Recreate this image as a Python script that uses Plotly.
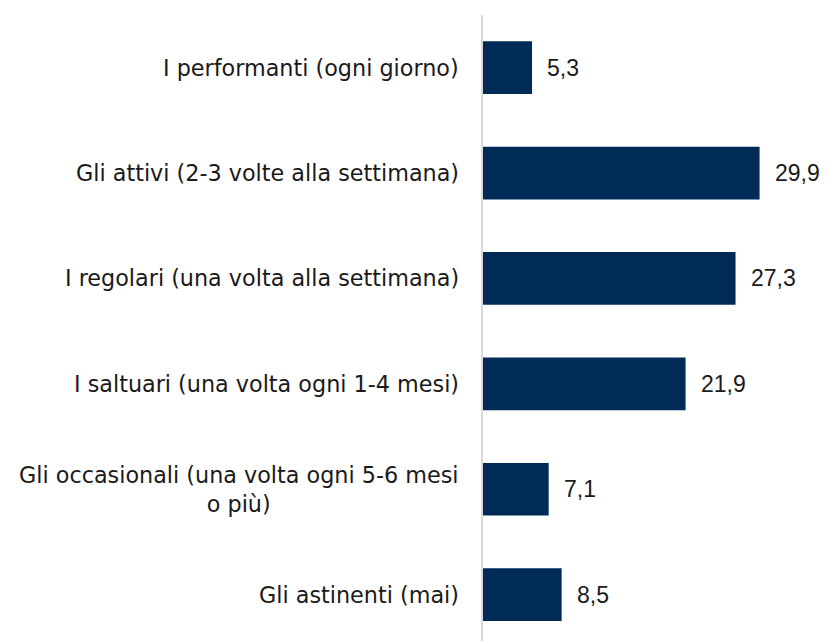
import plotly.graph_objects as go

categories = [
    "I performanti (ogni giorno)",
    "Gli attivi (2-3 volte alla settimana)",
    "I regolari (una volta alla settimana)",
    "I saltuari (una volta ogni 1-4 mesi)",
    "Gli occasionali (una volta ogni 5-6 mesi<br>o più)",
    "Gli astinenti (mai)",
]
values = [5.3, 29.9, 27.3, 21.9, 7.1, 8.5]
value_labels = [f"{v:.1f}".replace(".", ",") for v in values]

fig = go.Figure()
fig.add_trace(go.Bar(
    y=list(range(len(categories))),
    x=values,
    orientation="h",
    marker=dict(color="#002b57", line=dict(width=0)),
    width=0.5,
    hoverinfo="skip",
))

for i, (cat, v, lab) in enumerate(zip(categories, values, value_labels)):
    fig.add_annotation(
        x=0, y=i, xref="x", yref="y", text=cat, showarrow=False,
        xanchor="right", align="center", xshift=-22,
        font=dict(family="DejaVu Sans, sans-serif", size=22.3, color="#1a1a1a"),
    )
    fig.add_annotation(
        x=v, y=i, xref="x", yref="y", text=lab, showarrow=False,
        xanchor="left", xshift=13,
        font=dict(family="Liberation Sans, Arial, sans-serif", size=23, color="#1a1a1a"),
    )

fig.update_layout(
    width=820, height=633,
    margin=dict(l=475, r=12, t=7, b=0),
    plot_bgcolor="white", paper_bgcolor="white",
    showlegend=False,
    xaxis=dict(range=[0, 36], visible=False, fixedrange=True),
    yaxis=dict(range=[5.44, -0.5], showticklabels=False, showgrid=False, zeroline=False,
               showline=True, linecolor="#d9d9d9", linewidth=2, ticks=""),
)

fig.write_html("out.html")
